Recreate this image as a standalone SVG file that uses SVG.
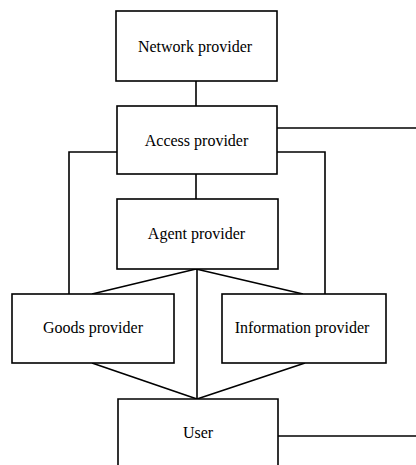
<svg xmlns="http://www.w3.org/2000/svg" width="416" height="465" viewBox="0 0 416 465">
<style>
.b{fill:#fff;stroke:#000;stroke-width:1.6}
.c{fill:none;stroke:#000;stroke-width:1.6}
text{font-family:"Liberation Serif","Times New Roman",serif;font-size:16px;fill:#000;text-anchor:middle}
</style>
<rect width="416" height="465" fill="#fff"/>
<g id="connectors">
<line class="c" x1="196" y1="81" x2="196" y2="106"/>
<line class="c" x1="277" y1="128" x2="416" y2="128"/>
<polyline class="c" points="117,152 69,152 69,294"/>
<polyline class="c" points="277,152 325,152 325,294"/>
<line class="c" x1="196" y1="174" x2="196" y2="199"/>
<line class="c" x1="196" y1="269" x2="92" y2="294"/>
<line class="c" x1="196" y1="269" x2="303" y2="294"/>
<line class="c" x1="197" y1="269" x2="197" y2="399"/>
<line class="c" x1="92" y1="363" x2="197" y2="399"/>
<line class="c" x1="305" y1="363" x2="197" y2="399"/>
<line class="c" x1="278" y1="436" x2="416" y2="436"/>
</g>
<g id="network"><rect class="b" x="116" y="11" width="161" height="70"/><text x="195" y="52">Network provider</text></g>
<g id="access"><rect class="b" x="117" y="106" width="160" height="68"/><text x="196.5" y="146">Access provider</text></g>
<g id="agent"><rect class="b" x="117" y="199" width="161" height="70"/><text x="196.5" y="239">Agent provider</text></g>
<g id="goods"><rect class="b" x="12" y="294" width="162" height="69"/><text x="93" y="333">Goods provider</text></g>
<g id="information"><rect class="b" x="222" y="294" width="164" height="69"/><text x="302" y="333">Information provider</text></g>
<g id="user"><path class="b" d="M118,466 V399 H278 V466"/><text x="198" y="438">User</text></g>
</svg>
